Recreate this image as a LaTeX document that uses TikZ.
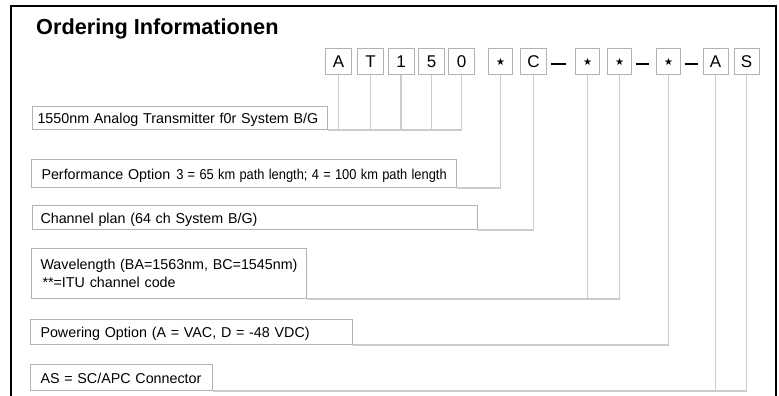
\documentclass[tikz,border=0pt]{standalone}
\usepackage{fontspec}
\usepackage{graphicx}
\setmainfont{Liberation Sans}
\newfontfamily\symfont{DejaVu Sans}
\begin{document}
\begin{tikzpicture}[x=1pt,y=-1pt,
  frame/.style={line width=2pt,black},
  tbox/.style={draw=gray!60,line width=1pt,anchor=north west,inner ysep=0pt,
    font=\fontsize{14.3}{18}\selectfont,align=left,text height=12pt,text depth=1pt},
  cbox/.style={draw=gray!60,line width=1pt,minimum width=26pt,minimum height=26pt,
    inner sep=0pt,font=\fontsize{17}{18}\selectfont},
  sbox/.style={cbox,minimum width=24pt,font=\symfont\fontsize{10}{10}\selectfont},
  link/.style={draw=gray!40,line width=1.1pt},
  sepline/.style={line width=2.6pt,black}]
\useasboundingbox (0,0) rectangle (779,396);
% frame
\draw[frame] (11,397) -- (11,6) -- (776,6) -- (776,397);
% title
\node[anchor=base west,inner sep=0pt,font=\bfseries\fontsize{21.7}{24}\selectfont] (title) at (36,35) {Ordering Informationen};
% code boxes
\node[cbox] (cA) at (338.5,62) {A};
\node[cbox] (cT) at (370.5,62) {T};
\node[cbox] (c1) at (401,62) {1};
\node[cbox] (c5) at (431.5,62) {5};
\node[cbox] (c0) at (461.5,62) {0};
\node[sbox] (s1) at (500.5,62) {★};
\node[cbox] (cC) at (533.5,62) {C};
\node[sbox] (s2) at (587.5,62) {★};
\node[sbox] (s3) at (619.5,62) {★};
\node[sbox] (s4) at (668.5,62) {★};
\node[cbox,minimum width=25pt] (cA2) at (715.5,62) {A};
\node[cbox,minimum width=25pt] (cS) at (746.5,62) {S};
% separators
\draw[sepline] ([shift={(3.5,2)}]cC.east) -- ++(15,0);
\draw[sepline] ([shift={(3.5,2)}]s3.east) -- ++(13,0);
\draw[sepline] ([shift={(3.5,2)}]s4.east) -- ++(13,0);
% description boxes
\node[tbox,inner xsep=5pt,text width=285pt,minimum height=23pt] (b1) at (32,106)
  {1550nm Analog Transmitter f0r System B/G};
\node[tbox,inner xsep=10pt,text width=405pt,minimum height=28pt] (b2) at (31,159)
  {Performance Option\hspace{6pt}\scalebox{0.9}[1]{3 = 65 km path length; 4 = 100 km path length}};
\node[tbox,inner xsep=8pt,text width=429pt,minimum height=24pt] (b3) at (32,205)
  {Channel plan (64 ch System B/G)};
\node[tbox,inner xsep=9pt,text width=257pt,minimum height=50pt,text height=12pt,text depth=20pt] (b4) at (31,248)
  {\mbox{Wavelength (BA=1563nm, BC=1545nm)}\\\mbox{\hspace{2pt}**=ITU channel code}};
\node[tbox,inner xsep=10pt,text width=302pt,minimum height=25pt] (b5) at (30,319)
  {Powering Option (A = VAC, D = -48 VDC)};
\node[tbox,inner xsep=10pt,text width=162pt,minimum height=26pt] (b6) at (30,364)
  {AS = SC/APC Connector};
% connectors
\draw[link] (cA.south) -- (cA.south |- b1.south east);
\draw[link] (cT.south) -- (cT.south |- b1.south east);
\draw[link] (c1.south) -- (c1.south |- b1.south east);
\draw[link] (c5.south) -- (c5.south |- b1.south east);
\draw[link] (c0.south) |- (b1.south east);
\draw[link] (s1.south) |- (b2.south east);
\draw[link] (cC.south) |- (b3.south east);
\draw[link] (s2.south) -- (s2.south |- b4.south east);
\draw[link] (s3.south) |- (b4.south east);
\draw[link] (s4.south) |- (b5.south east);
\draw[link] (cA2.south) -- (cA2.south |- b6.south east);
\draw[link] (cS.south) |- (b6.south east);
\end{tikzpicture}
\end{document}
